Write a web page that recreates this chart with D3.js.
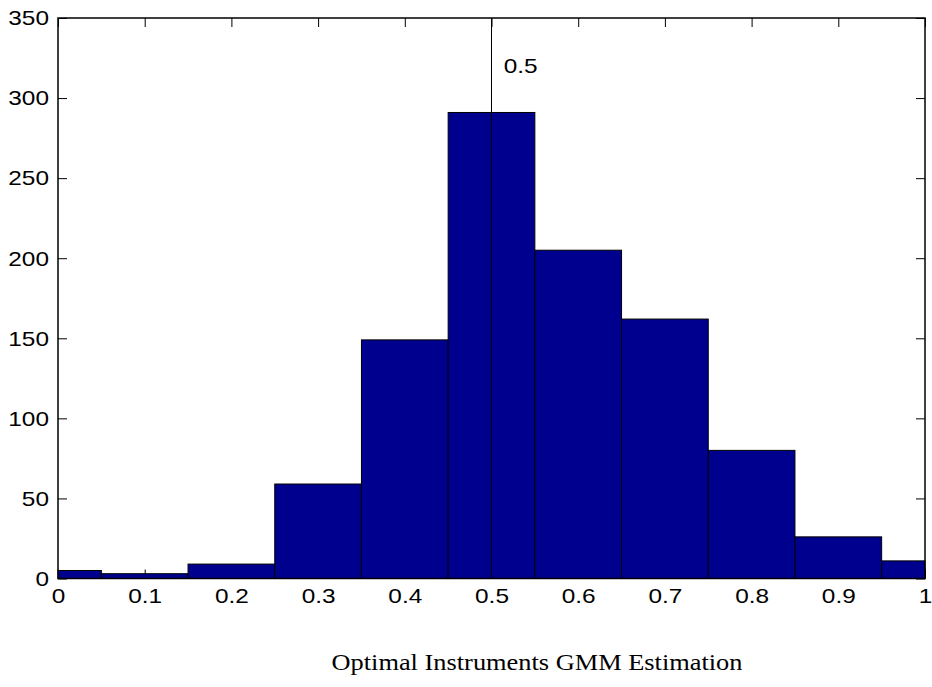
<!DOCTYPE html>
<html lang="en">
<head>
<meta charset="utf-8">
<title>Optimal Instruments GMM Estimation</title>
<script src="https://d3js.org/d3.v7.min.js"></script>
<style>
body { margin: 0; background: #fff; }
.tick text { font-family: "Liberation Sans", Arial, sans-serif; font-size: 20px; fill: #000; }
</style>
</head>
<body>
<div id="chart"></div>
<script>
// histogram bins (centres) and counts
var binCenters = [0, 0.1, 0.2, 0.3, 0.4, 0.5, 0.6, 0.7, 0.8, 0.9, 1.0];
var counts = [5, 3, 9, 59, 149, 291, 205, 162, 80, 26, 11];
var xTicks = [0, 0.1, 0.2, 0.3, 0.4, 0.5, 0.6, 0.7, 0.8, 0.9, 1];
var yTicks = [0, 50, 100, 150, 200, 250, 300, 350];
var markerX = 0.5;
var markerLabel = "0.5";
var title = "Optimal Instruments GMM Estimation";

var W = 932, H = 687;
var margin = {top: 18, right: 7, bottom: 109, left: 58};
var binWidth = 0.1;

var svg = d3.select("#chart").append("svg")
  .attr("width", W).attr("height", H);

var x = d3.scaleLinear().domain([0, 1]).range([margin.left, W - margin.right]);
var y = d3.scaleLinear().domain([0, 350]).range([H - margin.bottom + 0.5, margin.top]);

var stretch = "scale(1.22,1)";

// ticks (drawn inside, as in the original)
var bottom = svg.append("g")
  .attr("transform", "translate(0," + y(0) + ")")
  .call(d3.axisBottom(x).tickValues(xTicks).tickSizeInner(-9).tickSizeOuter(0)
    .tickFormat(function(d) { return d3.format("")(+d.toFixed(1)); }));
bottom.selectAll("text").attr("y", 25).attr("dy", null).attr("transform", stretch);

svg.append("g")
  .attr("transform", "translate(0," + y(350) + ")")
  .call(d3.axisTop(x).tickValues(xTicks).tickSizeInner(-9).tickSizeOuter(0).tickFormat(""));

var left = svg.append("g")
  .attr("transform", "translate(" + x(0) + ",0)")
  .call(d3.axisLeft(y).tickValues(yTicks).tickSizeInner(-9).tickSizeOuter(0));
left.selectAll("text").attr("x", 0).attr("dy", "0.34em")
  .attr("transform", "translate(-9,0) " + stretch);

svg.append("g")
  .attr("transform", "translate(" + x(1) + ",0)")
  .call(d3.axisRight(y).tickValues(yTicks).tickSizeInner(-9).tickSizeOuter(0).tickFormat(""));

svg.selectAll(".domain").remove();
svg.selectAll(".tick line").attr("stroke", "#000");

// bars, clipped to the axis range
svg.append("g").selectAll("rect")
  .data(binCenters)
  .enter().append("rect")
  .attr("x", function(d) { return x(Math.max(0, d - binWidth / 2)); })
  .attr("width", function(d, i) {
    return x(Math.min(1, d + binWidth / 2)) - x(Math.max(0, d - binWidth / 2));
  })
  .attr("y", function(d, i) { return y(counts[i]); })
  .attr("height", function(d, i) { return y(0) - y(counts[i]); })
  .attr("fill", "#00008f")
  .attr("stroke", "#000")
  .attr("stroke-width", 1);

// marker line at 0.5
svg.append("line")
  .attr("x1", x(markerX)).attr("x2", x(markerX))
  .attr("y1", y(350)).attr("y2", y(0))
  .attr("stroke", "#000").attr("stroke-width", 1);

svg.append("text")
  .attr("transform", "translate(" + x(0.514) + "," + (y(320) + 7) + ") " + stretch)
  .style("font-family", "'Liberation Sans', Arial, sans-serif")
  .style("font-size", "20px")
  .text(markerLabel);

// axes box
svg.append("rect")
  .attr("x", x(0)).attr("y", y(350))
  .attr("width", x(1) - x(0)).attr("height", y(0) - y(350))
  .attr("fill", "none").attr("stroke", "#000").attr("stroke-width", 1.5);

// caption below the plot
svg.append("text")
  .attr("x", 537).attr("y", 670)
  .attr("text-anchor", "middle")
  .attr("textLength", 411)
  .attr("lengthAdjust", "spacingAndGlyphs")
  .style("font-family", "'Liberation Serif', 'Times New Roman', serif")
  .style("font-size", "24px")
  .text(title);
</script>
</body>
</html>
